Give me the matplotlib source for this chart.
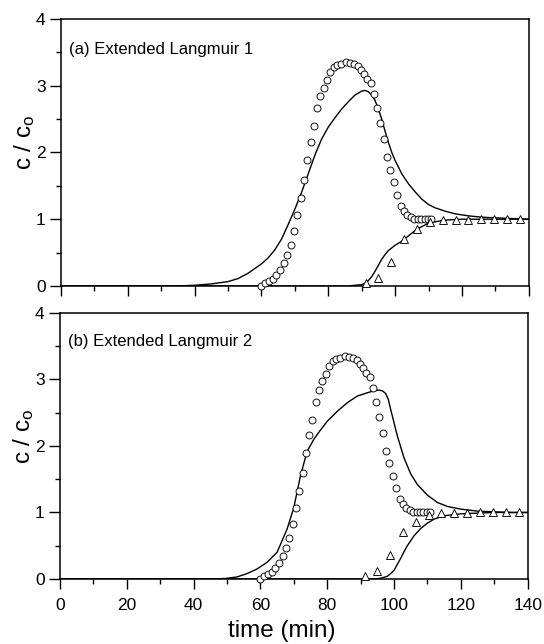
import matplotlib
matplotlib.use('Agg')
import matplotlib.pyplot as plt
from matplotlib.ticker import MultipleLocator

plt.rcParams['font.family'] = ['Liberation Sans', 'DejaVu Sans']
plt.rcParams['mathtext.fontset'] = 'custom'
plt.rcParams['mathtext.rm'] = 'Liberation Sans'
plt.rcParams['mathtext.it'] = 'Liberation Sans'

# experimental data (same run shown in both panels)
circ_t = [60, 61, 62.2, 63.4, 64.5, 65.6, 66.7, 67.7, 68.7, 69.7, 70.7, 71.7, 72.7,
          73.6, 74.7, 75.6, 76.6, 77.6, 78.6, 79.6, 80.6, 81.6, 82.7, 83.9, 85.3,
          86.6, 87.7, 88.8, 89.7, 90.7, 91.7, 92.7, 93.6, 94.6, 95.6, 96.6, 97.7,
          98.6, 99.7, 100.7, 101.7, 102.7, 103.7, 104.7, 105.8, 106.8, 107.8,
          108.8, 109.8, 110.7]
circ_y = [0.0, 0.04, 0.07, 0.11, 0.16, 0.24, 0.35, 0.46, 0.62, 0.83, 1.07, 1.32, 1.59,
          1.89, 2.16, 2.39, 2.66, 2.84, 2.97, 3.08, 3.21, 3.28, 3.31, 3.33, 3.35,
          3.34, 3.32, 3.30, 3.24, 3.17, 3.10, 3.04, 2.87, 2.66, 2.44, 2.20, 1.93,
          1.74, 1.55, 1.37, 1.20, 1.12, 1.07, 1.04, 1.01, 1.0, 1.0, 1.0, 1.0, 1.0]

tri_t = [91.2, 95.0, 98.9, 102.7, 106.5, 110.4, 114.2, 118.1, 121.9, 125.7, 129.6,
         133.5, 137.4]
tri_y = [0.04, 0.12, 0.36, 0.70, 0.86, 0.96, 0.99, 0.99, 0.99, 1.0, 1.01, 1.01, 1.01]

# model (a) Extended Langmuir 1
a1_t = [0, 33, 37, 40, 45, 50, 53, 56, 58, 60, 62, 64, 66, 68, 70, 72, 74, 76, 78,
        80, 82, 84, 86, 88, 90, 91, 92, 93, 94, 95, 96, 97, 98, 99, 100, 102, 104,
        106, 108, 110, 112, 115, 118, 122, 126, 130, 135, 140]
a1_y = [0, 0, 0.004, 0.01, 0.03, 0.065, 0.11, 0.19, 0.26, 0.33, 0.42, 0.54, 0.70,
        0.92, 1.15, 1.40, 1.68, 1.96, 2.20, 2.38, 2.52, 2.65, 2.76, 2.86, 2.92, 2.93,
        2.91, 2.86, 2.78, 2.65, 2.50, 2.32, 2.15, 2.0, 1.88, 1.68, 1.53, 1.41, 1.30,
        1.22, 1.17, 1.12, 1.08, 1.05, 1.03, 1.02, 1.01, 1.0]
a2_t = [0, 86, 88, 90, 91, 92, 93, 94, 95, 96, 97, 98, 100, 102, 104, 106, 108, 110,
        113, 116, 120, 130, 140]
a2_y = [0, 0, 0.01, 0.02, 0.04, 0.08, 0.14, 0.22, 0.31, 0.40, 0.47, 0.53, 0.61,
        0.67, 0.75, 0.83, 0.89, 0.94, 0.97, 0.99, 1.0, 1.0, 1.0]

# model (b) Extended Langmuir 2
b1_t = [0, 45, 48, 50, 53, 56, 59, 62, 65, 68, 70, 72, 74, 76, 78, 80, 83, 86, 89,
        92, 94, 95.5, 96.5, 97.5, 98.3, 99, 100, 101, 103, 105, 107, 110, 113, 116,
        120, 125, 130, 135, 140]
b1_y = [0, 0, 0.003, 0.01, 0.03, 0.08, 0.15, 0.25, 0.4, 0.75, 1.07, 1.55, 1.92,
        2.1, 2.24, 2.37, 2.52, 2.65, 2.75, 2.8, 2.83, 2.84, 2.83, 2.79, 2.7, 2.55,
        2.35, 2.15, 1.82, 1.58, 1.42, 1.26, 1.15, 1.09, 1.05, 1.02, 1.01, 1.0, 1.0]
b2_t = [0, 94, 96, 98, 99, 100, 101, 102, 103, 104, 106, 108, 110, 112, 115, 120,
        125, 130, 135, 140]
b2_y = [0, 0, 0.01, 0.04, 0.08, 0.13, 0.22, 0.31, 0.41, 0.50, 0.65, 0.76, 0.84,
        0.90, 0.95, 0.98, 0.99, 1.0, 1.0, 1.0]

labels = ['(a) Extended Langmuir 1', '(b) Extended Langmuir 2']

fig = plt.figure(figsize=(5.44, 6.44), dpi=100)
ax_a = fig.add_axes([0.112, 0.556, 0.860, 0.4145])
ax_b = fig.add_axes([0.110, 0.101, 0.860, 0.413])

panels = [(ax_a, a1_t, a1_y, a2_t, a2_y, labels[0], 0.884),
          (ax_b, b1_t, b1_y, b2_t, b2_y, labels[1], 0.894)]

for ax, t1, y1, t2, y2, lab, ty in panels:
    ax.plot(t1, y1, color='black', lw=1.0, zorder=2)
    ax.plot(t2, y2, color='black', lw=1.0, zorder=2)
    ax.plot(circ_t, circ_y, 'o', ms=5.0, mfc='white', mec='black', mew=0.65,
            zorder=3, clip_on=False)
    ax.plot(tri_t, tri_y, '^', ms=5.6, mfc='white', mec='black', mew=0.65,
            zorder=3, clip_on=False)
    ax.set_xlim(0, 140)
    ax.set_ylim(0, 4)
    ax.xaxis.set_major_locator(MultipleLocator(20))
    ax.xaxis.set_minor_locator(MultipleLocator(10))
    ax.yaxis.set_major_locator(MultipleLocator(1))
    ax.yaxis.set_minor_locator(MultipleLocator(0.5))
    ax.tick_params(which='both', direction='out', width=1.0, top=False, right=False)
    ax.tick_params(axis='x', which='major', length=7, labelsize=12.5, pad=7)
    ax.tick_params(axis='x', which='minor', length=3.5)
    ax.tick_params(axis='y', which='major', length=8, labelsize=12.5, pad=3)
    ax.tick_params(axis='y', which='minor', length=3.5)
    for s in ax.spines.values():
        s.set_linewidth(1.1)
    ax.text(0.017, ty, lab, transform=ax.transAxes, fontsize=12,
            ha='left', va='center')
    ax.set_ylabel('c / c$_{\\rm o}$', fontsize=17.5)
    ax.yaxis.set_label_coords(-0.052, 0.537)

ax_a.tick_params(labelbottom=False)
ax_b.set_xlabel('time (min)', fontsize=17.5)
ax_b.xaxis.set_label_coords(0.475, -0.155)

fig.savefig('out.png', dpi=100)
